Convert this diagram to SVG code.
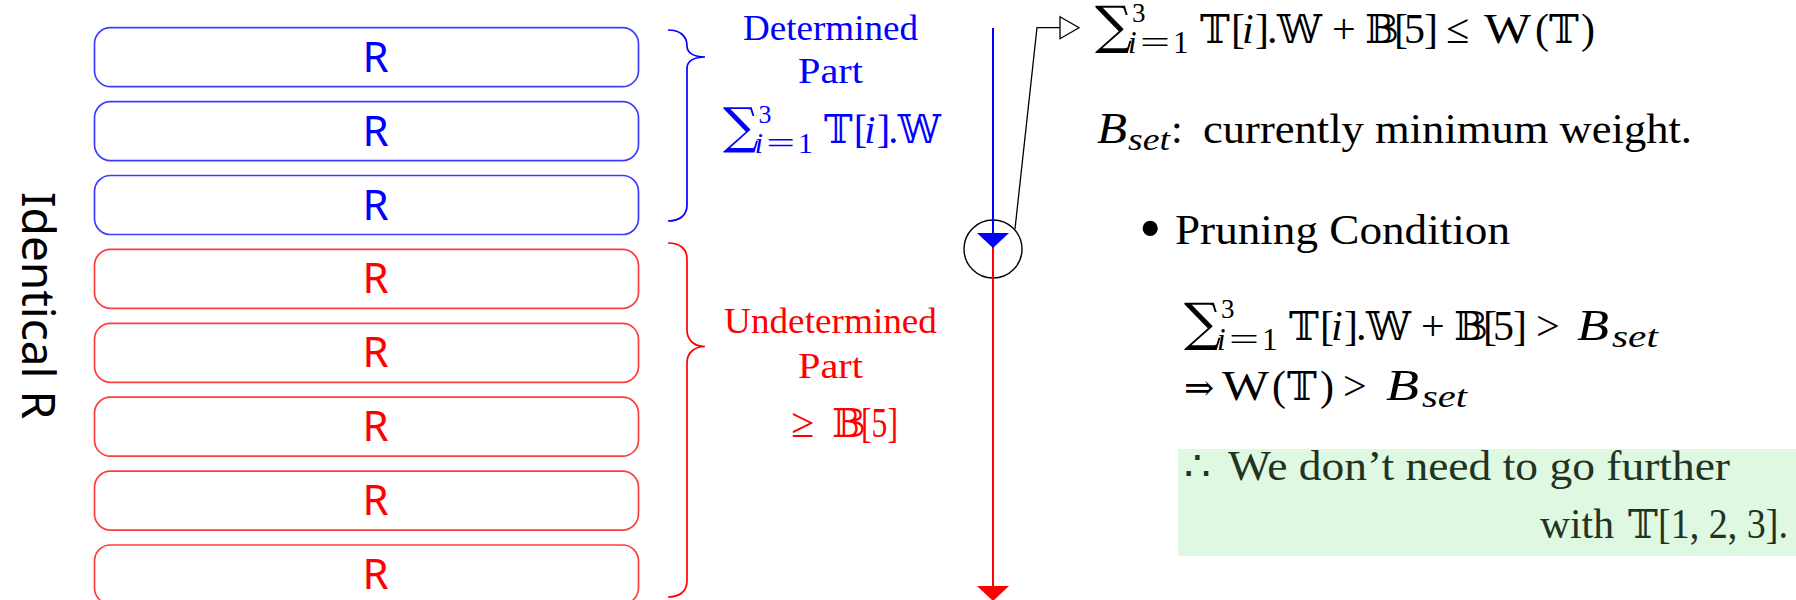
<svg xmlns="http://www.w3.org/2000/svg" width="1796" height="600" viewBox="0 0 1796 600">
<style>
.box{fill:none;stroke-width:1.7}
.bl{stroke:#3c3cff}
.rd{stroke:#ff3c3c}
.rl{font-family:"Noto Sans","Open Sans",sans-serif;font-size:42px;text-anchor:middle}
.s{font-family:"Liberation Serif","DejaVu Serif",serif;font-size:42px}
.ds{font-family:"DejaVu Serif","DejaVu Sans",serif;font-size:40px}
.sig{font-family:"DejaVu Serif","DejaVu Sans",serif;font-size:52px}
.it{font-style:italic}
.sub{font-size:31px}
.sup{font-size:27px}
.mid{text-anchor:middle}
.brace{fill:none;stroke-width:1.7}
.g{fill:#223322}
</style>
<defs>
<marker id="ab" markerUnits="userSpaceOnUse" markerWidth="16" markerHeight="32" refX="15" refY="16" orient="auto" overflow="visible"><path d="M0,0 L15,16 L0,32 Z" fill="#0000ff"/></marker>
<marker id="ar" markerUnits="userSpaceOnUse" markerWidth="16" markerHeight="32" refX="15" refY="16" orient="auto" overflow="visible"><path d="M0,0 L15,16 L0,32 Z" fill="#ff0000"/></marker>
<marker id="ao" markerUnits="userSpaceOnUse" markerWidth="20" markerHeight="22" refX="0" refY="11" orient="auto" overflow="visible"><path d="M0,0 L19,11 L0,22 Z" fill="#fff" stroke="#000" stroke-width="1.3"/></marker>
</defs>
<rect width="1796" height="600" fill="#fff"/>

<g id="identical-label"><text transform="translate(22,192) rotate(90)" style="font-family:'Noto Sans','Open Sans',sans-serif;font-size:46px" fill="#000">Identical R</text></g>

<g id="box1"><rect class="box bl" x="94.5" y="27.7" width="544" height="59" rx="16"/><text class="rl" x="375.5" y="71.7" fill="#0000ff">R</text></g>
<g id="box2"><rect class="box bl" x="94.5" y="101.6" width="544" height="59" rx="16"/><text class="rl" x="375.5" y="145.6" fill="#0000ff">R</text></g>
<g id="box3"><rect class="box bl" x="94.5" y="175.5" width="544" height="59" rx="16"/><text class="rl" x="375.5" y="219.5" fill="#0000ff">R</text></g>
<g id="box4"><rect class="box rd" x="94.5" y="249.4" width="544" height="59" rx="16"/><text class="rl" x="375.5" y="293.4" fill="#ff0000">R</text></g>
<g id="box5"><rect class="box rd" x="94.5" y="323.3" width="544" height="59" rx="16"/><text class="rl" x="375.5" y="367.3" fill="#ff0000">R</text></g>
<g id="box6"><rect class="box rd" x="94.5" y="397.2" width="544" height="59" rx="16"/><text class="rl" x="375.5" y="441.2" fill="#ff0000">R</text></g>
<g id="box7"><rect class="box rd" x="94.5" y="471.1" width="544" height="59" rx="16"/><text class="rl" x="375.5" y="515.1" fill="#ff0000">R</text></g>
<g id="box8"><rect class="box rd" x="94.5" y="545" width="544" height="59" rx="16"/><text class="rl" x="375.5" y="589" fill="#ff0000">R</text></g>

<g id="brace-determined">
<path class="brace" stroke="#0000ff" d="M668,30 C680,30 687,36 687,46 C687,53 694,57 705,57 C694,57 687,61 687,68 L687,205 C687,215 680,221 668,221"/>
<text class="s mid" x="830.5" y="40" textLength="175" lengthAdjust="spacingAndGlyphs" fill="#0000ff" style="font-size:35px">Determined</text>
<text class="s mid" x="830.5" y="83" textLength="65" lengthAdjust="spacingAndGlyphs" fill="#0000ff" style="font-size:35px">Part</text>
<g transform="translate(725,143.3) scale(0.96)" fill="#0000ff">
<text class="sig" x="-2" y="0">∑</text>
<text class="s sup" x="35" y="-21.6">3</text>
<text class="s sub it" x="31" y="10">i</text>
<text class="s sub" x="43" y="10" textLength="30" lengthAdjust="spacingAndGlyphs">=</text>
<text class="s sub" x="76" y="10">1</text>
<text class="ds" x="103" y="0">𝕋</text>
<text class="s" y="0"><tspan x="134">[</tspan><tspan class="it" x="145">i</tspan><tspan x="158">]</tspan><tspan x="170">.</tspan></text>
<text class="ds" x="180" y="0">𝕎</text>
</g>
</g>

<g id="brace-undetermined">
<path class="brace" stroke="#ff0000" d="M668,243 C680,243 687,249 687,259 L687,330 C687,340 694,346.5 705,346.5 C694,346.5 687,353 687,363 L687,581 C687,591 680,597 668,597"/>
<text class="s mid" x="830.5" y="333" textLength="213" lengthAdjust="spacingAndGlyphs" fill="#ff0000" style="font-size:35px">Undetermined</text>
<text class="s mid" x="830.5" y="378" textLength="65" lengthAdjust="spacingAndGlyphs" fill="#ff0000" style="font-size:35px">Part</text>
<text class="s" x="791" y="437" fill="#ff0000">≥</text>
<text class="ds" x="832" y="437" fill="#ff0000">𝔹</text>
<text class="s" x="861" y="437" textLength="37" lengthAdjust="spacingAndGlyphs" fill="#ff0000">[5]</text>
</g>

<g id="checkpoint"><circle cx="993" cy="249" r="29" fill="none" stroke="#000" stroke-width="1.4"/></g>

<g id="connectors">
<line x1="993" y1="28" x2="993" y2="248" stroke="#0000ff" stroke-width="2" marker-end="url(#ab)"/>
<line x1="993" y1="248" x2="993" y2="601" stroke="#ff0000" stroke-width="2" marker-end="url(#ar)"/>
<polyline points="1015,229 1037,27.7 1060,27.7" fill="none" stroke="#000" stroke-width="1.3" marker-end="url(#ao)"/>
</g>

<g id="note-bound" fill="#000">
<g transform="translate(1097,43.3)">
<text class="sig" x="-2" y="0">∑</text>
<text class="s sup" x="35" y="-21.6">3</text>
<text class="s sub it" x="31" y="10">i</text>
<text class="s sub" x="43" y="10" textLength="30" lengthAdjust="spacingAndGlyphs">=</text>
<text class="s sub" x="76" y="10">1</text>
<text class="ds" x="103" y="0">𝕋</text>
<text class="s" y="0"><tspan x="134">[</tspan><tspan class="it" x="145">i</tspan><tspan x="158">]</tspan><tspan x="170">.</tspan></text>
<text class="ds" x="180" y="0">𝕎</text>
<text class="s" x="235" y="0">+</text>
<text class="ds" x="268" y="0">𝔹</text>
<text class="s" y="0"><tspan x="297">[</tspan><tspan x="307">5</tspan><tspan x="327">]</tspan></text>
</g>
<text class="s" x="1446" y="43.3">≤</text>
<text class="s" x="1484" y="43.3" textLength="47" lengthAdjust="spacingAndGlyphs">W</text>
<text class="s" x="1535" y="43.3">(</text>
<text class="ds" x="1549" y="43.3">𝕋</text>
<text class="s" x="1581" y="43.3">)</text>
</g>

<g id="note-bset" fill="#000">
<text class="s it" x="1097" y="143" textLength="30" lengthAdjust="spacingAndGlyphs" style="font-size:44px">B</text>
<text class="s it sub" x="1128" y="150" textLength="42" lengthAdjust="spacingAndGlyphs">set</text>
<text class="s" x="1171" y="143">:</text>
<text class="s" x="1203" y="143" textLength="489" lengthAdjust="spacingAndGlyphs">currently minimum weight.</text>
</g>

<g id="note-pruning" fill="#000">
<text class="s" x="1139" y="250" style="font-size:64px">•</text>
<text class="s" x="1175" y="244" textLength="335" lengthAdjust="spacingAndGlyphs">Pruning Condition</text>
<g transform="translate(1186,340)">
<text class="sig" x="-2" y="0">∑</text>
<text class="s sup" x="35" y="-21.6">3</text>
<text class="s sub it" x="31" y="10">i</text>
<text class="s sub" x="43" y="10" textLength="30" lengthAdjust="spacingAndGlyphs">=</text>
<text class="s sub" x="76" y="10">1</text>
<text class="ds" x="103" y="0">𝕋</text>
<text class="s" y="0"><tspan x="134">[</tspan><tspan class="it" x="145">i</tspan><tspan x="158">]</tspan><tspan x="170">.</tspan></text>
<text class="ds" x="180" y="0">𝕎</text>
<text class="s" x="235" y="0">+</text>
<text class="ds" x="268" y="0">𝔹</text>
<text class="s" y="0"><tspan x="297">[</tspan><tspan x="307">5</tspan><tspan x="327">]</tspan></text>
</g>
<text class="s" x="1536" y="340">&gt;</text>
<text class="s it" x="1577" y="340" textLength="32" lengthAdjust="spacingAndGlyphs" style="font-size:44px">B</text>
<text class="s it sub" x="1612" y="347" textLength="46" lengthAdjust="spacingAndGlyphs">set</text>
<text class="s" x="1184" y="400" style="font-size:36px">⇒</text>
<text class="s" x="1222" y="400" textLength="47" lengthAdjust="spacingAndGlyphs">W</text>
<text class="s" x="1272" y="400">(</text>
<text class="ds" x="1287" y="400">𝕋</text>
<text class="s" x="1320" y="400">)</text>
<text class="s" x="1343" y="400">&gt;</text>
<text class="s it" x="1386" y="400" textLength="33" lengthAdjust="spacingAndGlyphs" style="font-size:44px">B</text>
<text class="s it sub" x="1422" y="407" textLength="45" lengthAdjust="spacingAndGlyphs">set</text>
</g>

<g id="note-conclusion">
<rect x="1178" y="449" width="618" height="107" fill="#dff8e1"/>
<text class="s g" x="1184" y="480">∴</text>
<text class="s g" x="1228" y="480" textLength="502" lengthAdjust="spacingAndGlyphs">We don’t need to go further</text>
<text class="s g" x="1540" y="538" textLength="74" lengthAdjust="spacingAndGlyphs">with</text>
<text class="ds g" x="1628" y="538">𝕋</text>
<text class="s g" x="1658" y="538" textLength="130" lengthAdjust="spacingAndGlyphs">[1, 2, 3].</text>
</g>
</svg>
